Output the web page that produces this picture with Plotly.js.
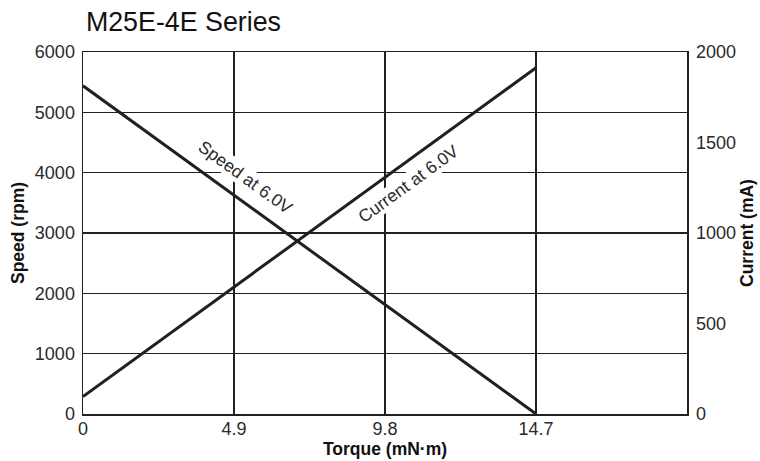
<!DOCTYPE html>
<html>
<head>
<meta charset="utf-8">
<script src="https://cdn.plot.ly/plotly-3.0.1.min.js"></script>
<style>html,body{margin:0;padding:0;background:#fff;}#chart{width:760px;height:461px;}</style>
</head>
<body>
<div id="chart"></div>
<script>
const torque = [0, 14.7];
const speedRpm = [5440, 0];
const currentMa = [96, 1913];
const xTickVals = [0, 4.9, 9.8, 14.7];
const xTickText = ['0', '4.9', '9.8', '14.7'];
const speedLabel = 'Speed at 6.0V';
const currentLabel = 'Current at 6.0V';

const ink = '#231f20';
const font = 'Liberation Sans, Arial, Helvetica, sans-serif';

const traces = [
  {x: torque, y: speedRpm, type: 'scatter', mode: 'lines', line: {color: ink, width: 3}, yaxis: 'y', hoverinfo: 'skip'},
  {x: torque, y: currentMa, type: 'scatter', mode: 'lines', line: {color: ink, width: 3}, yaxis: 'y2', hoverinfo: 'skip'}
];

const layout = {
  width: 760, height: 461,
  margin: {l: 83, r: 73, t: 52, b: 47},
  paper_bgcolor: '#fff', plot_bgcolor: '#fff',
  showlegend: false,
  font: {family: font, color: ink, size: 18},
  title: {text: 'M25E-4E Series', font: {family: font, size: 26.8, color: '#111'}, xref: 'container', yref: 'container', x: 0.113, xanchor: 'left', y: 0.953, yanchor: 'middle'},
  xaxis: {
    range: [0, 19.6], tickvals: xTickVals, ticktext: xTickText,
    showgrid: true, gridcolor: ink, gridwidth: 1.3,
    showline: true, linecolor: ink, linewidth: 1.5, mirror: true,
    zeroline: false, ticks: '', tickfont: {size: 18, color: '#2a2a2a'},
    ticklabelstandoff: -2,
    title: {text: '<b>Torque (mN·m)</b>', font: {size: 17.5, color: '#111'}, standoff: 0}
  },
  yaxis: {
    range: [0, 6000], dtick: 1000, tick0: 0,
    showgrid: true, gridcolor: ink, gridwidth: 1.3,
    showline: true, linecolor: ink, linewidth: 1.5, mirror: true,
    zeroline: false, ticks: '', tickfont: {size: 18, color: '#2a2a2a'},
    ticklabelstandoff: 3,
    title: {text: '<b>Speed (rpm)</b>', font: {size: 17.5, color: '#111'}, standoff: 5}
  },
  yaxis2: {
    overlaying: 'y', side: 'right', range: [0, 2000], dtick: 500, tick0: 0,
    showgrid: false, zeroline: false, showline: false, ticks: '',
    tickfont: {size: 18, color: '#2a2a2a'},
    ticklabelstandoff: 8,
    title: {text: '<b>Current (mA)</b>', font: {size: 17.5, color: '#111'}, standoff: 5}
  },
  annotations: [
    {x: 5.26, y: 3928, xref: 'x', yref: 'y', text: speedLabel, showarrow: false, textangle: 36, font: {size: 17.5, color: '#2a2a2a'}, bgcolor: '#fff', borderpad: 0},
    {x: 10.55, y: 3812, xref: 'x', yref: 'y', text: currentLabel, showarrow: false, textangle: -36, font: {size: 17.5, color: '#2a2a2a'}, bgcolor: '#fff', borderpad: 0}
  ]
};

Plotly.newPlot('chart', traces, layout, {displayModeBar: false, staticPlot: true});
</script>
</body>
</html>
